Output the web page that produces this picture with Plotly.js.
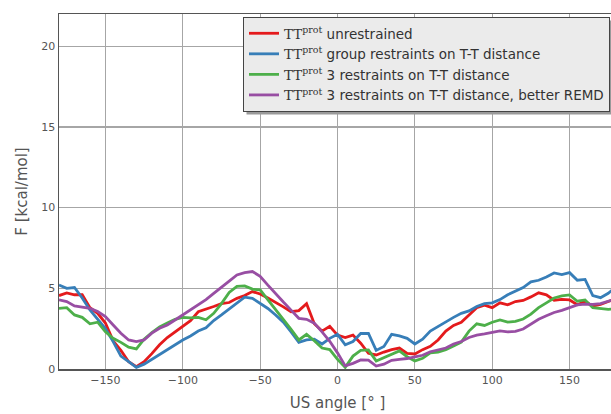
<!DOCTYPE html>
<html>
<head>
<meta charset="utf-8">
<script src="https://cdn.plot.ly/plotly-3.0.1.min.js"></script>
<style>
html,body{margin:0;padding:0;overflow:hidden;background:#fff;}
#chart{width:620px;height:414px;}
</style>
</head>
<body>
<div id="chart"></div>
<script>
const angles = [-180,-175,-170,-165,-160,-155,-150,-145,-140,-135,-130,-125,-120,-115,-110,-105,-100,-95,-90,-85,-80,-75,-70,-65,-60,-55,-50,-45,-40,-35,-30,-25,-20,-15,-10,-5,0,5,10,15,20,25,30,35,40,45,50,55,60,65,70,75,80,85,90,95,100,105,110,115,120,125,130,135,140,145,150,155,160,165,170,175,180];

const unrestrained = [4.55,4.72,4.6,4.6,3.8,3.45,2.85,1.75,1.15,0.45,0.15,0.45,0.95,1.5,1.95,2.3,2.65,3.0,3.55,3.7,3.87,4.05,4.12,4.38,4.55,4.8,4.65,4.4,4.15,3.85,3.55,3.62,4.05,2.8,2.35,2.65,2.1,1.95,2.1,1.6,0.97,0.87,1.05,1.2,1.3,0.97,0.93,1.2,1.4,1.8,2.35,2.7,2.9,3.35,3.8,3.95,3.8,4.1,3.98,4.18,4.25,4.47,4.72,4.6,4.26,4.32,4.28,3.98,4.2,3.9,4.0,4.18,4.35];

const groupRestraints = [5.2,5.0,5.05,4.4,3.66,3.1,2.5,1.7,0.8,0.46,0.1,0.3,0.6,0.87,1.22,1.49,1.8,2.05,2.35,2.55,3.0,3.35,3.7,4.1,4.45,4.38,4.05,3.75,3.35,2.9,2.3,1.65,1.8,1.85,1.55,1.9,2.15,1.5,1.7,2.2,2.2,1.15,1.4,2.15,2.05,1.9,1.55,1.85,2.35,2.65,2.9,3.2,3.45,3.6,3.87,4.05,4.1,4.3,4.6,4.85,5.05,5.4,5.5,5.7,5.95,5.85,5.97,5.5,5.55,4.55,4.42,4.69,5.1];

const threeRestraints = [3.76,3.8,3.35,3.2,2.8,2.9,2.3,1.9,1.65,1.35,1.25,1.85,2.25,2.6,2.85,3.08,3.2,3.17,3.2,3.05,3.45,4.05,4.75,5.12,5.15,4.95,4.9,4.3,3.7,3.1,2.45,1.8,2.15,1.75,1.3,1.2,0.6,0.1,0.8,1.15,1.18,0.5,0.7,0.95,1.12,0.76,0.5,0.66,1.0,1.05,1.2,1.43,1.67,2.35,2.8,2.7,2.9,3.04,2.9,2.95,3.1,3.4,3.8,4.1,4.4,4.53,4.59,4.2,4.28,3.8,3.74,3.7,3.72];

const betterREMD = [4.28,4.18,3.91,3.83,3.76,3.56,3.25,2.73,2.22,1.8,1.7,1.8,2.22,2.52,2.73,3.04,3.35,3.66,3.95,4.3,4.69,5.1,5.45,5.83,5.97,6.04,5.75,5.2,4.65,4.15,3.65,3.14,3.08,2.84,2.3,1.72,1.0,0.19,0.35,0.56,0.55,0.18,0.3,0.54,0.6,0.65,0.75,0.85,1.07,1.2,1.3,1.55,1.7,1.95,2.1,2.17,2.26,2.36,2.3,2.33,2.48,2.78,3.08,3.3,3.5,3.63,3.82,3.97,4.02,4.0,4.05,4.2,4.35];

const seriesNames = ["unrestrained","group restraints on T-T distance","3 restraints on T-T distance","3 restraints on T-T distance, better REMD"];
const seriesColors = ["#e41a1c","#377eb8","#4daf4a","#984ea3"];
const seriesValues = [unrestrained, groupRestraints, threeRestraints, betterREMD];

const xTicks = [-150,-100,-50,0,50,100,150];
const yTicks = [0,5,10,15,20];

const prefix = '<span style="font-family:\'DejaVu Serif\',serif">TT<sup>prot</sup></span> ';

const traces = seriesValues.map((v,i)=>({
  x: angles, y: v, type:'scatter', mode:'lines',
  name: prefix + seriesNames[i],
  line:{color:seriesColors[i], width:2.8}
}));

// plot area: x 59..616 px, y 14..369 px
const px = p => (p-59)/557;
const py = p => (369-p)/355;

const layout = {
  width:620, height:414,
  margin:{l:59,r:4,t:14,b:45},
  paper_bgcolor:'#fff', plot_bgcolor:'#fff',
  font:{family:'DejaVu Sans, sans-serif', color:'#555'},
  showlegend:true,
  legend:{x:px(243), y:py(17), xanchor:'left', yanchor:'top',
    bgcolor:'#ebebeb', bordercolor:'#444', borderwidth:1, itemwidth:30,
    font:{size:13.5, color:'#333'}, tracegroupgap:0},
  xaxis:{range:[-180,180], tickvals:xTicks, showgrid:true, gridcolor:'#a6a6a6', gridwidth:1.2,
    zeroline:false, showline:true, linecolor:'#555', linewidth:1.5, mirror:true, ticks:'',
    tickfont:{size:11,color:'#555'},
    title:{text:'US angle [° ]', font:{size:15,color:'#555'}, standoff:12}},
  yaxis:{range:[0,22], tickvals:yTicks, showgrid:true, gridcolor:'#a6a6a6', gridwidth:1.2,
    zeroline:false, showline:true, linecolor:'#555', linewidth:1.5, mirror:true, ticks:'',
    tickfont:{size:11,color:'#555'},
    title:{text:'F [kcal/mol]', font:{size:15,color:'#555'}, standoff:10}}
};

const gd = document.getElementById('chart');
Plotly.newPlot(gd, traces, layout, {displayModeBar:false, staticPlot:true}).then(() => {
  const bg = gd.querySelector('.legend .bg');
  if (!bg) return;
  const r = bg.getBoundingClientRect();
  const c = gd.getBoundingClientRect();
  const L = r.left - c.left, T = r.top - c.top, R = r.right - c.left, B = r.bottom - c.top;
  return Plotly.relayout(gd, {shapes:[{type:'rect', xref:'paper', yref:'paper', layer:'above',
    x0:px(L+3), x1:px(R+3), y0:py(B+3), y1:py(T+3),
    fillcolor:'#9a9a9a', line:{width:0}}]});
});
</script>
</body>
</html>
